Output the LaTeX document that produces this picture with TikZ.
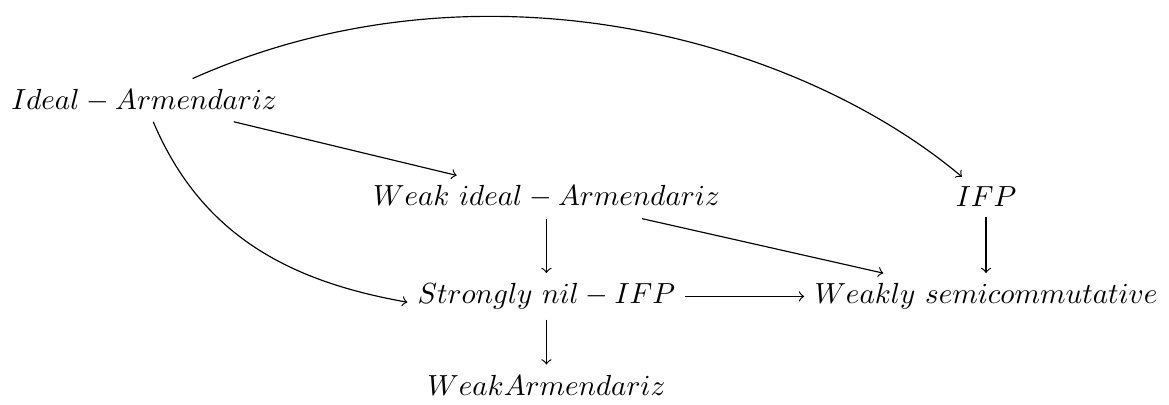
\documentclass[tikz,border=0pt]{standalone}
\begin{document}
\begin{tikzpicture}
      \useasboundingbox (0, 0) rectangle (14.12, 4.89);

      \node (ideal) at (1.74, 3.68){$Ideal-Armendariz$};
      \node (weakideal) at (6.60, 2.51){$Weak\ ideal-Armendariz$};
      \node (ifp) at (11.91, 2.51){$IFP$};
      \node (strongly) at (6.60, 1.31){$Strongly\ nil-IFP$};
      \node (weakly) at (11.91, 1.31){$Weakly\ semicommutative$};
      \node (weakarm) at (6.60, 0.24){$WeakArmendariz$};

      \draw [->] (ideal) to (weakideal);
      \draw [->] (ideal) to [out=24, in=140, out distance=3.8cm, in distance=2.6cm] (ifp);
      \draw [->] (ideal) to [out=-67, in=170] ([yshift=-2pt]strongly.west);

      \draw [->] (weakideal) to (strongly);
      \draw [->] (weakideal) to (weakly);
      \draw [->] (ifp) to (weakly);

      \draw [->] (strongly) to (weakly);
      \draw [->] (strongly) to (weakarm);

    \end{tikzpicture}
\end{document}
